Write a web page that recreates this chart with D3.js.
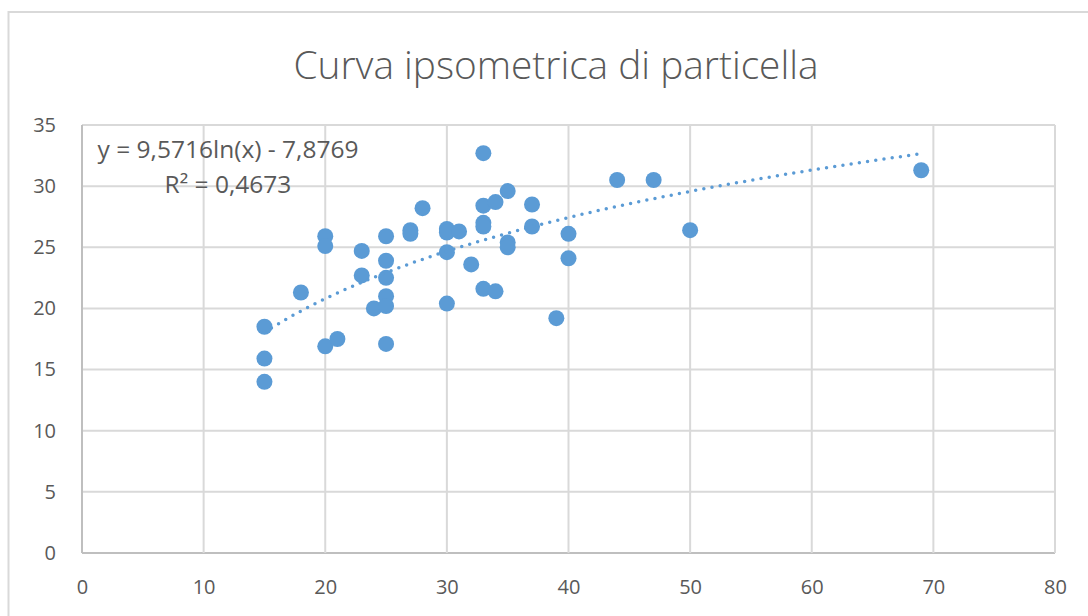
<!DOCTYPE html>
<html>
<head>
<meta charset="utf-8">
<script src="https://cdn.jsdelivr.net/npm/d3@7"></script>
<style>
  body { margin: 0; background: #fff; }
  text { font-family: "Open Sans", sans-serif; fill: #595959; }
</style>
</head>
<body>
<div id="chart"></div>
<script>
// diameter (x) and height (y)
var diametri = [15, 15, 15, 18, 20, 20, 20, 21, 23, 23, 24, 25, 25, 25, 25, 25, 25,
                27, 27, 28, 30, 30, 30, 30, 31, 32, 33, 33, 33, 33, 33, 34, 34,
                35, 35, 35, 37, 37, 39, 40, 40, 44, 47, 50, 69];
var altezze  = [18.5, 15.9, 14.0, 21.3, 25.9, 25.1, 16.9, 17.5, 24.7, 22.7, 20.0, 25.9, 23.9, 22.5, 21.0, 20.2, 17.1,
                26.4, 26.1, 28.2, 26.5, 26.2, 24.6, 20.4, 26.3, 23.6, 32.7, 28.4, 27.0, 26.7, 21.6, 28.7, 21.4,
                29.6, 25.4, 25.0, 28.5, 26.7, 19.2, 26.1, 24.1, 30.5, 30.5, 26.4, 31.3];
var xTicks = [0, 10, 20, 30, 40, 50, 60, 70, 80];
var yTicks = [0, 5, 10, 15, 20, 25, 30, 35];
// logarithmic trendline shown on the chart
var trendA = 9.5716, trendB = -7.8769;

var W = 1088, H = 616;
var margin = {top: 125, right: 33, bottom: 63, left: 82},
    width = W - margin.left - margin.right,
    height = H - margin.top - margin.bottom;

var svg = d3.select("#chart")
  .append("svg")
    .attr("width", W)
    .attr("height", H);

// chart area border
svg.append("rect")
  .attr("x", 8.5).attr("y", 12)
  .attr("width", W + 20).attr("height", H + 20)
  .attr("fill", "none")
  .attr("stroke", "#d9d9d9")
  .attr("stroke-width", 2);

svg.append("text")
  .attr("x", 556).attr("y", 79)
  .attr("text-anchor", "middle")
  .style("font-size", "38.8px")
  .style("font-weight", 300)
  .text("Curva ipsometrica di particella");

var g = svg.append("g")
  .attr("transform", "translate(" + margin.left + "," + margin.top + ")");

var x = d3.scaleLinear().domain([0, 80]).range([0, width]);
var y = d3.scaleLinear().domain([0, 35]).range([height, 0]);

// gridlines
g.selectAll(".hgrid").data(yTicks).enter().append("line")
  .attr("x1", 0).attr("x2", width)
  .attr("y1", function(d) { return y(d); })
  .attr("y2", function(d) { return y(d); })
  .attr("stroke", function(d) { return d === 0 ? "#bfbfbf" : "#d9d9d9"; })
  .attr("stroke-width", 2);

g.selectAll(".vgrid").data(xTicks).enter().append("line")
  .attr("y1", 0).attr("y2", height)
  .attr("x1", function(d) { return x(d); })
  .attr("x2", function(d) { return x(d); })
  .attr("stroke", function(d) { return d === 0 ? "#bfbfbf" : "#d9d9d9"; })
  .attr("stroke-width", 2);

// axes (labels only)
var xAxis = g.append("g")
  .attr("transform", "translate(0," + height + ")")
  .call(d3.axisBottom(x).tickValues(xTicks).tickSize(0).tickPadding(27));
var yAxis = g.append("g")
  .call(d3.axisLeft(y).tickValues(yTicks).tickSize(0).tickPadding(26));
[xAxis, yAxis].forEach(function(a) {
  a.select(".domain").remove();
  a.selectAll("text")
    .style("font-family", "'Open Sans', sans-serif")
    .style("font-size", "20px")
    .attr("fill", "#595959");
});

// points
g.selectAll(".pt").data(diametri).enter().append("circle")
  .attr("cx", function(d) { return x(d); })
  .attr("cy", function(d, i) { return y(altezze[i]); })
  .attr("r", 8)
  .attr("fill", "#5b9bd5");

// trendline
var xMin = d3.min(diametri), xMax = d3.max(diametri);
var trend = d3.range(xMin, xMax + 0.01, 0.5);
g.append("path")
  .datum(trend)
  .attr("fill", "none")
  .attr("stroke", "#5b9bd5")
  .attr("stroke-width", 3.5)
  .attr("stroke-linecap", "round")
  .attr("stroke-dasharray", "0 8.3")
  .attr("d", d3.line()
    .x(function(d) { return x(d); })
    .y(function(d) { return y(trendA * Math.log(d) + trendB); })
  );

// equation label
svg.append("text")
  .attr("x", 228).attr("y", 158)
  .attr("text-anchor", "middle")
  .style("font-size", "24.5px")
  .text("y = 9,5716ln(x) - 7,8769");
svg.append("text")
  .attr("x", 228).attr("y", 193)
  .attr("text-anchor", "middle")
  .style("font-size", "24.5px")
  .text("R² = 0,4673");
</script>
</body>
</html>
